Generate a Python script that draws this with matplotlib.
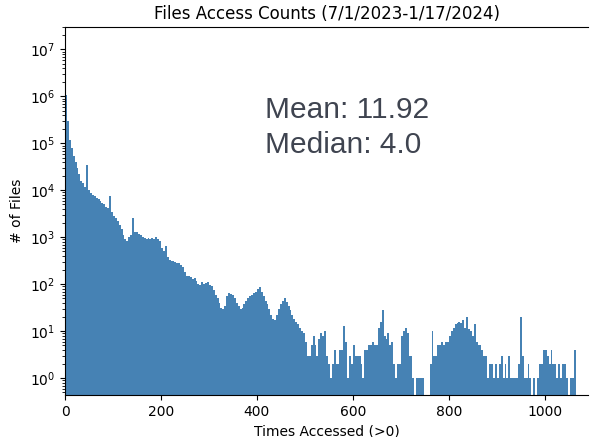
import numpy as np
import matplotlib
matplotlib.use("Agg")
import matplotlib.pyplot as plt

# Counts per 4-wide bin of "times accessed"
bin_width = 4
counts_dense = [
    1.05e6, 3.0e5, 1.2e5, 8.0e4, 5.5e4, 4.0e4, 3.0e4, 2.2e4, 1.6e4, 1.4e4,
    1.2e4, 3.5e4, 1.0e4, 8.6e3, 8.0e3, 7.5e3, 7.0e3, 6.5e3, 6.0e3, 5.5e3,
    5.0e3, 4.5e3, 4.2e3, 7.5e3, 3.5e3, 2.9e3, 2.6e3, 2.2e3, 1.8e3, 1.5e3,
    1.1e3, 900, 850, 1.0e3, 1.1e3, 2.6e3, 1.3e3, 1.3e3, 1.2e3, 1.1e3,
    1.0e3, 950, 900, 950, 900, 950, 900, 1.0e3, 900, 850,
    600, 500, 650, 380, 330, 320, 310, 300, 280, 290,
    260, 230, 180, 150, 150, 140, 130, 135, 120, 100,
    95, 110, 100, 105, 110, 95, 90, 75, 60, 50,
    40, 32, 30, 35, 55, 65, 62, 58, 50, 40,
    35, 30, 32, 38, 45, 50, 55, 60, 65, 70,
    80, 88, 70, 55, 45, 38, 30, 22, 18, 17,
    22, 30, 38, 45, 50, 42, 35, 28, 22, 18,
    16, 14,
]
counts_sparse = [
    12, 10, 9, 6, 3, 3, 5, 8, 5, 3,
    7, 9, 8, 10, 3, 2, 1, 2, 4, 2,
    2, 4, 4, 13, 6, 1, 3, 2, 5, 3,
    3, 3, 2, 1, 4, 4, 5, 5, 6, 5,
    5, 12, 16, 28, 8, 7, 9, 5, 6, 2,
    1, 2, 2, 8, 10, 12, 9, 3, 3, 1,
    0, 1, 1, 1, 1, 0, 0, 0, 2, 10,
    3, 3, 5, 5, 6, 5, 6, 6, 8, 10,
    12, 14, 15, 16, 15, 17, 12, 20, 11, 10,
    8, 14, 6, 5, 5, 4, 3, 3, 1, 2,
    2, 1, 2, 1, 2, 3, 1, 2, 1, 3,
    1, 1, 1, 1, 2, 20, 3, 1, 1, 2,
    1, 0, 1, 0, 1, 2, 2, 4, 4, 3,
    2, 4, 2, 2, 1, 2, 1, 2, 2, 1,
    0, 1, 1, 4, 0,
]
counts = np.array(counts_dense + counts_sparse, dtype=float)
edges = np.arange(len(counts) + 1) * bin_width

title = "Files Access Counts (7/1/2023-1/17/2024)"
xlabel = "Times Accessed (>0)"
ylabel = "# of Files"
mean_text = "Mean: 11.92"
median_text = "Median: 4.0"

W, H = 590, 437
fig = plt.figure(figsize=(W / 100, H / 100), dpi=100)
ax = fig.add_axes([65 / W, 1 - 395 / H, (588 - 65) / W, (395 - 27) / H])

ax.hist(edges[:-1], bins=edges, weights=counts, color="#4682b4", log=True,
        linewidth=0)
ax.set_yscale("log")
ax.set_ylim(0.44, 3e7)
ax.set_xlim(0, 1090)
ax.spines["right"].set_visible(False)
ax.set_xticks([0, 200, 400, 600, 800, 1000])

ax.set_title(title, fontsize=12)
ax.set_xlabel(xlabel, fontsize=10)
ax.set_ylabel(ylabel, fontsize=10)

txt_kw = dict(fontsize=21.5, color="#3f4450", family="Liberation Sans",
              ha="left", va="baseline")
fig.text(265 / W, 1 - 118 / H, mean_text, **txt_kw)
fig.text(265 / W, 1 - 153 / H, median_text, **txt_kw)

fig.savefig("out.png", dpi=100)
